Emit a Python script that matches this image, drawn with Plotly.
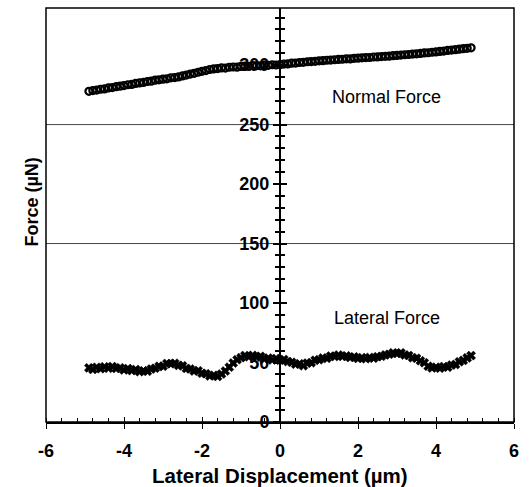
import plotly.graph_objects as go

# Lateral displacement sample positions (um)
disp = [-4.9, -4.8, -4.7, -4.6, -4.5, -4.4, -4.3, -4.2, -4.1, -4.0,
        -3.9, -3.8, -3.7, -3.6, -3.5, -3.4, -3.3, -3.2, -3.1, -3.0,
        -2.9, -2.8, -2.7, -2.6, -2.5, -2.4, -2.3, -2.2, -2.1, -2.0,
        -1.9, -1.8, -1.7, -1.6, -1.5, -1.4, -1.3, -1.2, -1.1, -1.0,
        -0.9, -0.8, -0.7, -0.6, -0.5, -0.4, -0.3, -0.2, -0.1, 0.0,
        0.1, 0.2, 0.3, 0.4, 0.5, 0.6, 0.7, 0.8, 0.9, 1.0,
        1.1, 1.2, 1.3, 1.4, 1.5, 1.6, 1.7, 1.8, 1.9, 2.0,
        2.1, 2.2, 2.3, 2.4, 2.5, 2.6, 2.7, 2.8, 2.9, 3.0,
        3.1, 3.2, 3.3, 3.4, 3.5, 3.6, 3.7, 3.8, 3.9, 4.0,
        4.1, 4.2, 4.3, 4.4, 4.5, 4.6, 4.7, 4.8, 4.9]

# Normal force (uN)
normal_force = [278.0, 278.6, 279.0, 279.7, 280.0, 280.8, 281.1, 281.9, 282.3, 282.8,
                283.5, 283.8, 284.6, 285.0, 285.4, 286.2, 286.5, 287.3, 287.6, 288.2,
                288.5, 289.3, 289.5, 290.1, 290.9, 291.6, 292.5, 293.1, 294.0, 294.8,
                295.4, 296.3, 296.8, 297.1, 297.6, 297.5, 298.2, 298.4, 298.3, 298.9,
                299.1, 298.9, 299.5, 299.6, 299.4, 300.0, 299.8, 300.3, 300.1, 300.4,
                300.9, 301.0, 301.6, 301.7, 302.2, 302.3, 302.8, 303.0, 303.2, 303.6,
                303.7, 304.1, 304.2, 304.5, 304.8, 304.9, 305.3, 305.2, 305.7, 305.8,
                306.1, 306.3, 306.4, 306.8, 306.9, 307.2, 307.4, 307.5, 307.9, 308.1,
                308.4, 308.7, 308.9, 309.3, 309.5, 309.8, 310.2, 310.4, 310.8, 311.1,
                311.5, 311.8, 312.3, 312.6, 313.0, 313.4, 313.8, 314.1, 314.5]

# Lateral force (uN)
lateral_force = [45.5, 44.2, 46.0, 44.8, 46.4, 45.1, 46.6, 45.0, 45.6, 43.8,
                 44.9, 43.2, 44.1, 42.3, 43.0, 42.6, 44.5, 45.2, 46.9, 46.8,
                 49.2, 48.9, 49.4, 47.6, 47.2, 45.0, 44.6, 42.8, 43.1, 40.9,
                 40.6, 38.7, 39.3, 38.2, 40.4, 42.8, 46.1, 49.6, 52.4, 54.1,
                 55.9, 54.8, 56.0, 54.6, 55.2, 52.9, 53.8, 52.1, 53.4, 51.9,
                 52.6, 50.8, 50.2, 48.6, 48.9, 47.2, 49.5, 49.8, 51.9, 52.3,
                 53.8, 53.5, 55.4, 55.0, 56.3, 55.1, 55.6, 54.2, 54.8, 53.4,
                 54.1, 53.2, 54.3, 53.6, 54.9, 55.2, 56.4, 56.9, 58.2, 57.6,
                 58.1, 56.3, 55.9, 54.0, 53.6, 51.5, 49.8, 46.9, 45.4, 46.1,
                 45.2, 46.6, 46.0, 47.9, 48.3, 50.6, 51.8, 53.9, 55.8]

y_ticks = [0, 50, 100, 150, 200, 250, 300]
x_ticks = [-6, -4, -2, 0, 2, 4, 6]
x_tick_labels = ["-6", "-4", "-2", "0", "2", "4", "6"]
ref_lines = [150, 250]

FONT = "Liberation Sans, Arial, sans-serif"
Y_RANGE = [0, 348]
X_RANGE = [-6, 6]

fig = go.Figure()
fig.add_trace(go.Scatter(
    x=disp, y=normal_force, mode="markers",
    marker=dict(symbol="circle-open", size=7, color="black", line=dict(width=2.2, color="black")),
    showlegend=False, hoverinfo="skip"))
fig.add_trace(go.Scatter(
    x=disp, y=lateral_force, mode="markers",
    marker=dict(symbol="x", size=8, color="black", line=dict(width=0.5, color="black")),
    showlegend=False, hoverinfo="skip"))

for v in ref_lines:
    fig.add_shape(type="line", xref="x", yref="y", x0=X_RANGE[0], x1=X_RANGE[1], y0=v, y1=v,
                  line=dict(color="#444", width=1), layer="below")

# frame (left, top, right)
fig.add_shape(type="rect", xref="paper", yref="paper", x0=0, x1=1, y0=0, y1=1,
              line=dict(color="black", width=1.5), layer="above")

fig.update_layout(
    width=530, height=487,
    margin=dict(l=46, r=16, t=8, b=65),
    paper_bgcolor="white", plot_bgcolor="white",
    font=dict(family=FONT, color="black"),
    xaxis=dict(
        range=X_RANGE, domain=[0, 1], tickvals=x_ticks, ticktext=x_tick_labels,
        ticks="outside", ticklen=5, tickwidth=1.2, tickcolor="black",
        showline=True, linecolor="black", linewidth=2,
        showgrid=False, zeroline=False,
        tickfont=dict(size=18, weight="bold", family=FONT),
        ticklabelstandoff=6,
        minor=dict(dtick=0.4, ticks="inside", ticklen=4, tickwidth=1, tickcolor="black", showgrid=False),
    ),
    xaxis2=dict(
        range=X_RANGE, overlaying="x", anchor="y", side="bottom", tickvals=x_ticks,
        ticks="inside", ticklen=5, tickwidth=1.2, tickcolor="black",
        showticklabels=False, showgrid=False, zeroline=False, showline=False,
    ),
    yaxis=dict(
        range=Y_RANGE, anchor="free", position=0.5, tickvals=y_ticks,
        ticks="outside", ticklen=6, tickwidth=1.5, tickcolor="black",
        showline=True, linecolor="black", linewidth=2,
        showgrid=False, zeroline=False,
        tickfont=dict(size=18, weight="bold", family=FONT),
        minor=dict(dtick=10, ticks="outside", ticklen=4, tickwidth=1.5, tickcolor="black", showgrid=False),
    ),
    yaxis2=dict(
        range=Y_RANGE, overlaying="y", anchor="free", position=0.5, side="left",
        tickvals=y_ticks, ticks="inside", ticklen=6, tickwidth=1.5, tickcolor="black",
        showticklabels=False, showgrid=False, zeroline=False, showline=False,
        minor=dict(dtick=10, ticks="inside", ticklen=4, tickwidth=1.5, tickcolor="black", showgrid=False),
    ),
)

# invisible trace so the overlay axes render
fig.add_trace(go.Scatter(x=[None], y=[None], xaxis="x2", yaxis="y2", showlegend=False, hoverinfo="skip"))

fig.add_annotation(text="<b>Lateral Displacement (µm)</b>", xref="paper", yref="paper",
                   x=0.5, y=0, xanchor="center", yanchor="middle", yshift=-53,
                   showarrow=False, font=dict(size=20.5, family=FONT))
fig.add_annotation(text="<b>Force (µN)</b>", xref="paper", yref="paper",
                   x=0, y=0.53, xanchor="center", yanchor="middle", xshift=-14, textangle=-90,
                   showarrow=False, font=dict(size=18, family=FONT))
fig.add_annotation(text="Normal Force", xref="x", yref="y", x=2.74, y=273.5,
                   showarrow=False, font=dict(size=18, family=FONT))
fig.add_annotation(text="Lateral Force", xref="x", yref="y", x=2.74, y=87.8,
                   showarrow=False, font=dict(size=18, family=FONT))

fig.write_html("out.html")
